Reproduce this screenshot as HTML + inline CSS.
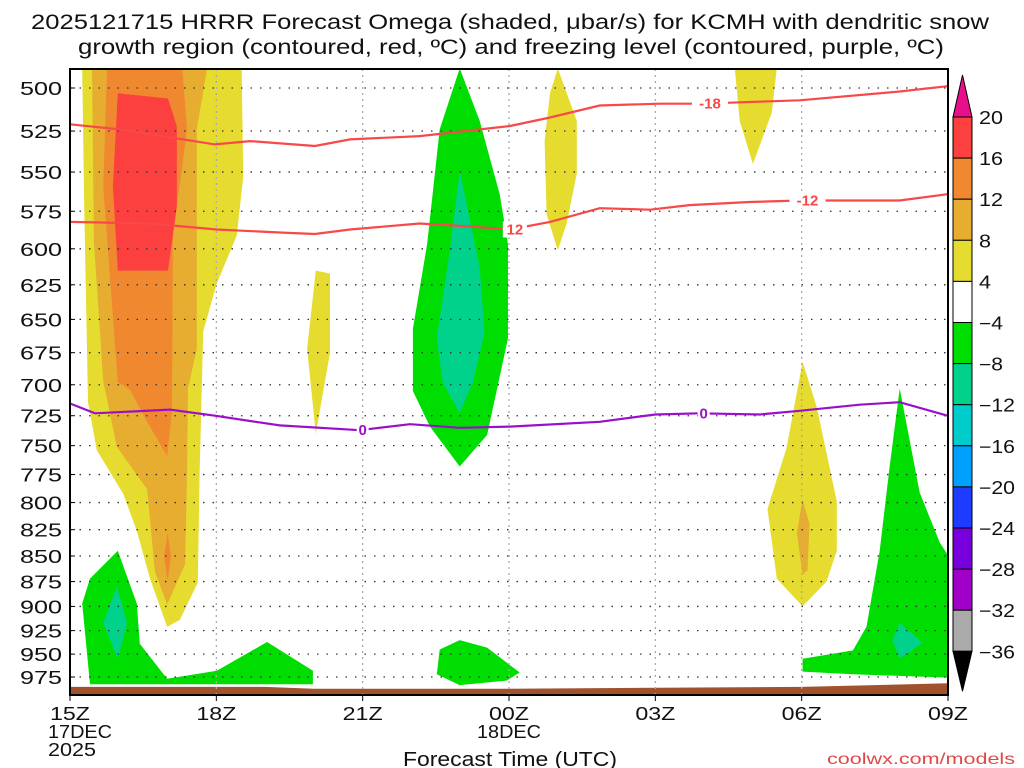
<!DOCTYPE html>
<html><head><meta charset="utf-8">
<style>
body{margin:0;background:#fff;width:1024px;height:768px;overflow:hidden}
svg{display:block;font-family:"Liberation Sans",sans-serif}
</style></head>
<body>
<svg id="chart" width="1024" height="768" viewBox="0 0 1024 768">
<text x="510" y="29" text-anchor="middle" font-size="21" fill="#111" textLength="958" lengthAdjust="spacingAndGlyphs">2025121715 HRRR Forecast Omega (shaded, μbar/s) for KCMH with dendritic snow</text>
<text x="511" y="54" text-anchor="middle" font-size="21" fill="#111" textLength="866" lengthAdjust="spacingAndGlyphs">growth region (contoured, red, ºC) and freezing level (contoured, purple, ºC)</text>
<text x="510" y="766" text-anchor="middle" font-size="20" fill="#111" textLength="214" lengthAdjust="spacingAndGlyphs">Forecast Time (UTC)</text>
<text x="1015" y="764" text-anchor="end" font-size="16" fill="#e04848" textLength="188" lengthAdjust="spacingAndGlyphs">coolwx.com/models</text>
<g id="shades"></g>
<g id="grid"></g>
<g id="lines"></g>
<g id="axes"></g>
<g id="cbar"></g>
</svg>
<script>
// ---- data ----
const pLevels=[500,525,550,575,600,625,650,675,700,725,750,775,800,825,850,875,900,925,950,975];
const xTickHours=[0,3,6,9,12,15,18];
const xTickLabels=["15Z","18Z","21Z","00Z","03Z","06Z","09Z"];
const cbarLevels=[20,16,12,8,4,-4,-8,-12,-16,-20,-24,-28,-32,-36];
const cbarColors=["#fc4040","#f08830","#e6ad30","#e6dc30","#ffffff","#00dd00","#00d28c","#00cccc","#00a0ff","#1e3cff","#7800dc","#a000c8","#aaaaaa"];
const yellowLeftH=[0.25,0.29,0.37,0.55,1.09,1.37,1.64,1.99,2.25,2.62,2.66,2.73,3.01,3.42,3.55,3.52];
const yellowLeftP=[489,568,714,754,792,826,872,921,914,876,771,659,624,591,553,489];
const goldLeftH=[0.45,0.49,0.68,0.96,1.58,1.74,1.99,2.36,2.40,2.42,2.60,2.60,2.81];
const goldLeftP=[489,595,697,751,788,865,898,858,771,703,672,524,489];
const orangeLeftH=[0.76,0.68,0.98,1.23,1.58,1.99,2.09,2.11,2.40,2.30];
const orangeLeftP=[489,559,698,704,730,759,722,591,524,489];
const orangeSliverH=[2.0,2.07,2.0,1.93];
const orangeSliverP=[828,850,874,850];
const redLeftH=[0.98,2.01,2.19,2.19,2.01,0.98,0.88];
const redLeftP=[503,506,522,572,615,615,559];
const greenBLH=[0.98,1.37,1.43,1.99,3.01,4.04,4.98,4.98,0.41,0.25,0.41];
const greenBLP=[845,897,939,977,968,937,968,983,983,897,872];
const tealBLH=[0.96,1.17,0.98,0.68];
const tealBLP=[880,917,955,917];
const yellow20H=[5.04,5.33,5.33,5.04,4.86];
const yellow20P=[615,617,675,740,672];
const greenBigH=[7.99,7.58,7.32,7.03,7.03,7.38,7.99,8.55,8.98,8.98,8.81,8.40];
const greenBigP=[489,524,597,657,705,734,768,741,664,597,564,519];
const tealBigH=[7.99,8.40,8.50,8.26,7.99,7.64,7.52,7.79];
const tealBigP=[549,613,660,698,723,698,664,600];
const yellow01H=[10.0,10.39,10.39,10.18,10.0,9.77,9.73,9.84];
const yellow01P=[489,519,551,583,601,577,531,503];
const greenLowH=[7.99,8.55,9.22,8.95,7.99,7.52,7.58];
const greenLowP=[935,943,970,979,984,972,945];
const yellow05H=[13.63,14.49,14.39,14.0,13.73];
const yellow05P=[489,489,514,545,519];
const yellow06H=[15.02,15.31,15.72,15.72,15.51,15.02,14.49,14.30,14.69];
const yellow06P=[682,718,799,845,875,900,872,806,752];
const gold06H=[15.02,15.16,15.12,15.02,14.90];
const gold06P=[797,820,864,868,828];
const greenRightH=[17.01,17.42,17.83,18.2,18.2,16.05,15.02,15.02,16.05,16.33,16.60,16.80];
const greenRightP=[703,791,837,864,976,972,969,955,946,921,845,769];
const tealRightH=[17.01,17.48,17.01,16.86];
const tealRightP=[917,938,955,935];
const terrainH=[0,4,5,9,12,15,18];
const terrainP=[986,986,988,988,987,986,982];
const m18H=[0,1.02,2.97,3.69,5.02,5.74,7.17,9.02,9.84,10.86,12.09,12.91,14.96,17.01,17.99];
const m18P=[521,524,533,531,534,530,528,522,517,510,509,509,507,502,499];
const m12H=[0,1.64,3.01,4.30,5.02,5.74,7.17,8.20,9.02,9.84,10.86,11.89,12.70,13.93,14.96,17.01,17.99];
const m12P=[582,583,587,589,590,587,583,585,587,582,573,574,571,569,568,568,564];
const zeroH=[0,0.51,2.05,2.97,4.30,5.94,6.97,7.99,9.02,10.86,12.0,12.91,14.14,14.96,16.19,17.01,17.99];
const zeroP=[715,723,720,725,733,737,732,735,734,730,724,723,724,721,716,714,725];

// ---- axes ----
const X0=70,X1=948,Y0=69,Y1=695;
const xs=h=>X0+h*(X1-X0)/18;
const ys=p=>88+882*Math.log(p/500);
const NS="http://www.w3.org/2000/svg";
function mk(tag,attrs,parent){const e=document.createElementNS(NS,tag);for(const k in attrs)e.setAttribute(k,attrs[k]);parent.appendChild(e);return e;}
const clipEl=mk("clipPath",{id:"pc"},document.getElementById("chart"));
mk("rect",{x:X0,y:Y0,width:X1-X0,height:Y1-Y0},clipEl);
const shades=document.getElementById("shades");shades.setAttribute("clip-path","url(#pc)");
function pts(H,P){return H.map((h,i)=>xs(h).toFixed(1)+","+ys(P[i]).toFixed(1)).join(" ");}
const regions=[[3,yellowLeftH,yellowLeftP],[2,goldLeftH,goldLeftP],[1,orangeLeftH,orangeLeftP],[1,orangeSliverH,orangeSliverP],[0,redLeftH,redLeftP],
[5,greenBLH,greenBLP],[6,tealBLH,tealBLP],[3,yellow20H,yellow20P],[5,greenBigH,greenBigP],[6,tealBigH,tealBigP],[3,yellow01H,yellow01P],
[5,greenLowH,greenLowP],[3,yellow05H,yellow05P],[3,yellow06H,yellow06P],[2,gold06H,gold06P],[5,greenRightH,greenRightP],[6,tealRightH,tealRightP]];
regions.forEach(r=>{
  const e=mk("polygon",{points:pts(r[1],r[2]),fill:cbarColors[r[0]]},shades);
  
  
});
const tH=terrainH.concat([18,0]),tP=terrainP.concat([1005,1005]);
const terr=mk("polygon",{points:pts(tH,tP),fill:"#a0522d"},shades);



const grid=document.getElementById("grid");
const axes=document.getElementById("axes");
pLevels.forEach(p=>{
  const y=ys(p);
  const l=mk("line",{x1:X0,x2:X1,y1:y,y2:y,stroke:"#333","stroke-width":1.3,"stroke-dasharray":"1.5,8"},grid);
  
  
  const t=mk("text",{x:62,y:y+7,"text-anchor":"end","font-size":18,fill:"#111",textLength:42,lengthAdjust:"spacingAndGlyphs"},axes);t.textContent=p;
  
  
  mk("line",{x1:X0,x2:X0+5,y1:y,y2:y,stroke:"#000"},axes);
});
xTickHours.forEach((h,i)=>{
  const x=xs(h);
  if(i>0&&i<xTickHours.length-1){const v=mk("line",{x1:x,x2:x,y1:Y0,y2:Y1,stroke:"#aaa","stroke-width":1.3,"stroke-dasharray":"2,4"},grid);
  
  }
  mk("line",{x1:x,x2:x,y1:Y1,y2:Y1+6,stroke:"#000"},axes);
  const t=mk("text",{x:x,y:720,"text-anchor":"middle","font-size":18,fill:"#111",textLength:40,lengthAdjust:"spacingAndGlyphs"},axes);t.textContent=xTickLabels[i];
  
  
});
[["17DEC",xs(0)+10,738,64],["2025",xs(0)+2,756,48],["18DEC",xs(9),738,64]].forEach(d=>{
  const t=mk("text",{x:d[1],y:d[2],"text-anchor":"middle","font-size":18,fill:"#111",textLength:d[3],lengthAdjust:"spacingAndGlyphs"},axes);t.textContent=d[0];
  
  
});
const fr=mk("rect",{x:X0,y:Y0,width:X1-X0,height:Y1-Y0,fill:"none",stroke:"#000","stroke-width":2},axes);



const lines=document.getElementById("lines");lines.setAttribute("clip-path","url(#pc)");
function contour(H,P,col,name,labels){
  const d="M"+H.map((h,i)=>xs(h).toFixed(1)+","+ys(P[i]).toFixed(1)).join(" L");
  const e=mk("path",{d:d,fill:"none",stroke:col,"stroke-width":2.2},lines);
  
  
  labels.forEach(L=>{
    const x=xs(L[0]),y=ys(L[1]);
    mk("rect",{x:x-(L[2].length*6),y:y-8,width:L[2].length*12,height:16,fill:"#fff"},lines);
    const t=mk("text",{x:x,y:y+5,"text-anchor":"middle","font-size":15,"font-weight":"bold",fill:col},lines);t.textContent=L[2];
    
    
  });
}
contour(m18H,m18P,"#f84848","contour-minus18",[[13.12,509,"-18"]]);
contour(m12H,m12P,"#f84848","contour-minus12",[[9.12,587,"12"],[15.12,568,"-12"]]);
contour(zeroH,zeroP,"#9a10c8","freezing-level",[[6.0,737,"0"],[12.99,723,"0"]]);

const cb=document.getElementById("cbar");
const CX=953,CW=19,CT=117,CS=41.1;
const cbTop=mk("polygon",{points:`${CX},${CT} ${CX+CW},${CT} ${CX+CW/2},${CT-42}`,fill:"#e8108a",stroke:"#000"},cb);


cbarColors.forEach((c,i)=>{
  const r=mk("rect",{x:CX,y:CT+i*CS,width:CW,height:CS,fill:c,stroke:"#000","stroke-width":1},cb);
  
  
});
const yb=CT+cbarColors.length*CS;
const cbBot=mk("polygon",{points:`${CX},${yb} ${CX+CW},${yb} ${CX+CW/2},${yb+40}`,fill:"#000",stroke:"#000"},cb);


cbarLevels.forEach((v,i)=>{
  const s=(v<0?"\u2212"+(-v):String(v));
  const t=mk("text",{x:979,y:CT+i*CS+7,"font-size":18,fill:"#111",textLength:s.length*12,lengthAdjust:"spacingAndGlyphs"},cb);t.textContent=s;
  
  
});
</script>
</body></html>
